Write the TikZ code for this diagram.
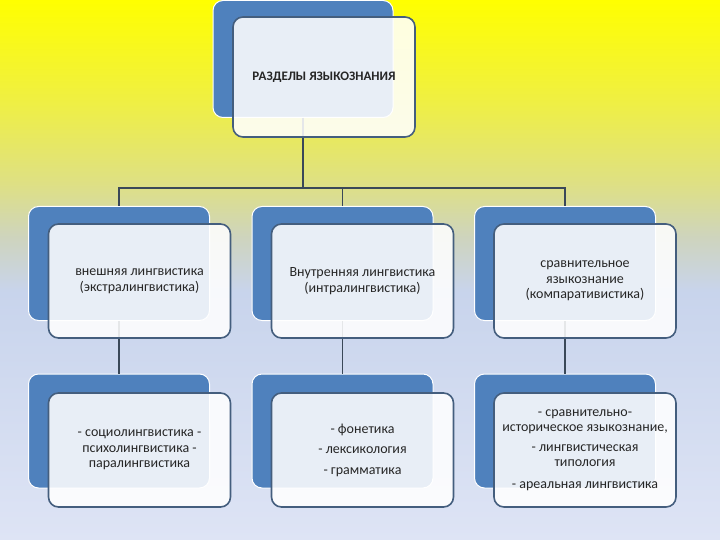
\documentclass[tikz,border=0pt]{standalone}
\usepackage{fontspec}
\setmainfont{Carlito}
\definecolor{backblue}{RGB}{79,129,189}
\definecolor{frameblue}{RGB}{68,94,126}
\definecolor{linkgray}{RGB}{58,72,88}
\definecolor{bgtop}{RGB}{255,255,0}
\definecolor{bgupper}{RGB}{240,240,64}
\definecolor{bgmid}{RGB}{222,224,132}
\definecolor{bglow}{RGB}{206,212,190}
\definecolor{bgblue}{RGB}{200,212,236}
\definecolor{bgbot}{RGB}{222,228,245}
\pgfdeclareverticalshading{bgshade}{100bp}{color(0bp)=(bgbot); color(25bp)=(bgbot); color(48bp)=(bgblue); color(53bp)=(bglow); color(58bp)=(bgmid); color(66bp)=(bgupper); color(75bp)=(bgtop); color(100bp)=(bgtop)}
\begin{document}
\begin{tikzpicture}[x=1pt,y=-1pt,
    back/.style={draw=white, line width=1pt, fill=backblue, rounded corners=10pt,
        minimum width=181pt, minimum height=114pt, inner sep=0pt},
    front/.style={draw=frameblue, line width=1.6pt, fill=white, fill opacity=0.87,
        text opacity=1, rounded corners=10pt, minimum width=182pt, minimum height=114pt,
        inner sep=0pt, align=center, text=black!85, font=\fontsize{14}{15.5}\selectfont},
    link/.style={draw=linkgray, line width=1.6pt}]
    \useasboundingbox (0,0) rectangle (720,540);
    \shade[shading=bgshade] (0,0) rectangle (720,540);

    % back boxes
    \node[back, minimum width=180pt, minimum height=117pt] (tb) at (303,59) {};
    \node[back] (b1) at (119,263.5) {};
    \node[back] (b2) at (342.5,263.5) {};
    \node[back] (b3) at (565,263.5) {};
    \node[back] (c1) at (119,431) {};
    \node[back] (c2) at (342.5,431) {};
    \node[back] (c3) at (565,431) {};

    % tree
    \coordinate (bus) at (0,188);
    \draw[link] (tb.south) -- (tb.south |- bus);
    \draw[link] (b1.north) |- (b3.north |- bus) -- (b3.north);
    \draw[link] (b2.north) -- (b2.north |- bus);
    \draw[link] (b1.south) -- (c1.north);
    \draw[link] (b2.south) -- (c2.north);
    \draw[link] (b3.south) -- (c3.north);

    % front boxes
    \node[front, minimum height=120pt, font=\bfseries\fontsize{13}{15}\selectfont] (tf) at (324,77) {РАЗДЕЛЫ ЯЗЫКОЗНАНИЯ};
    \node[front] (f1) at (139.5,281) {внешняя лингвистика\\(экстралингвистика)};
    \node[front] (f2) at (362.5,281) {Внутренняя лингвистика\\(интралингвистика)};
    \node[front] (f3) at (585,281) {сравнительное\\языкознание\\(компаративистика)};
    \node[front] (g1) at (139.5,450) {- социолингвистика -\\психолингвистика -\\паралингвистика};
    \node[front] (g2) at (362.5,450) {- фонетика\\[5pt]- лексикология\\[5pt]- грамматика};
    \node[front] (g3) at (585,450) {- сравнительно-\\историческое языкознание,\\[4pt]- лингвистическая\\типология\\[6pt]- ареальная лингвистика};
\end{tikzpicture}
\end{document}
